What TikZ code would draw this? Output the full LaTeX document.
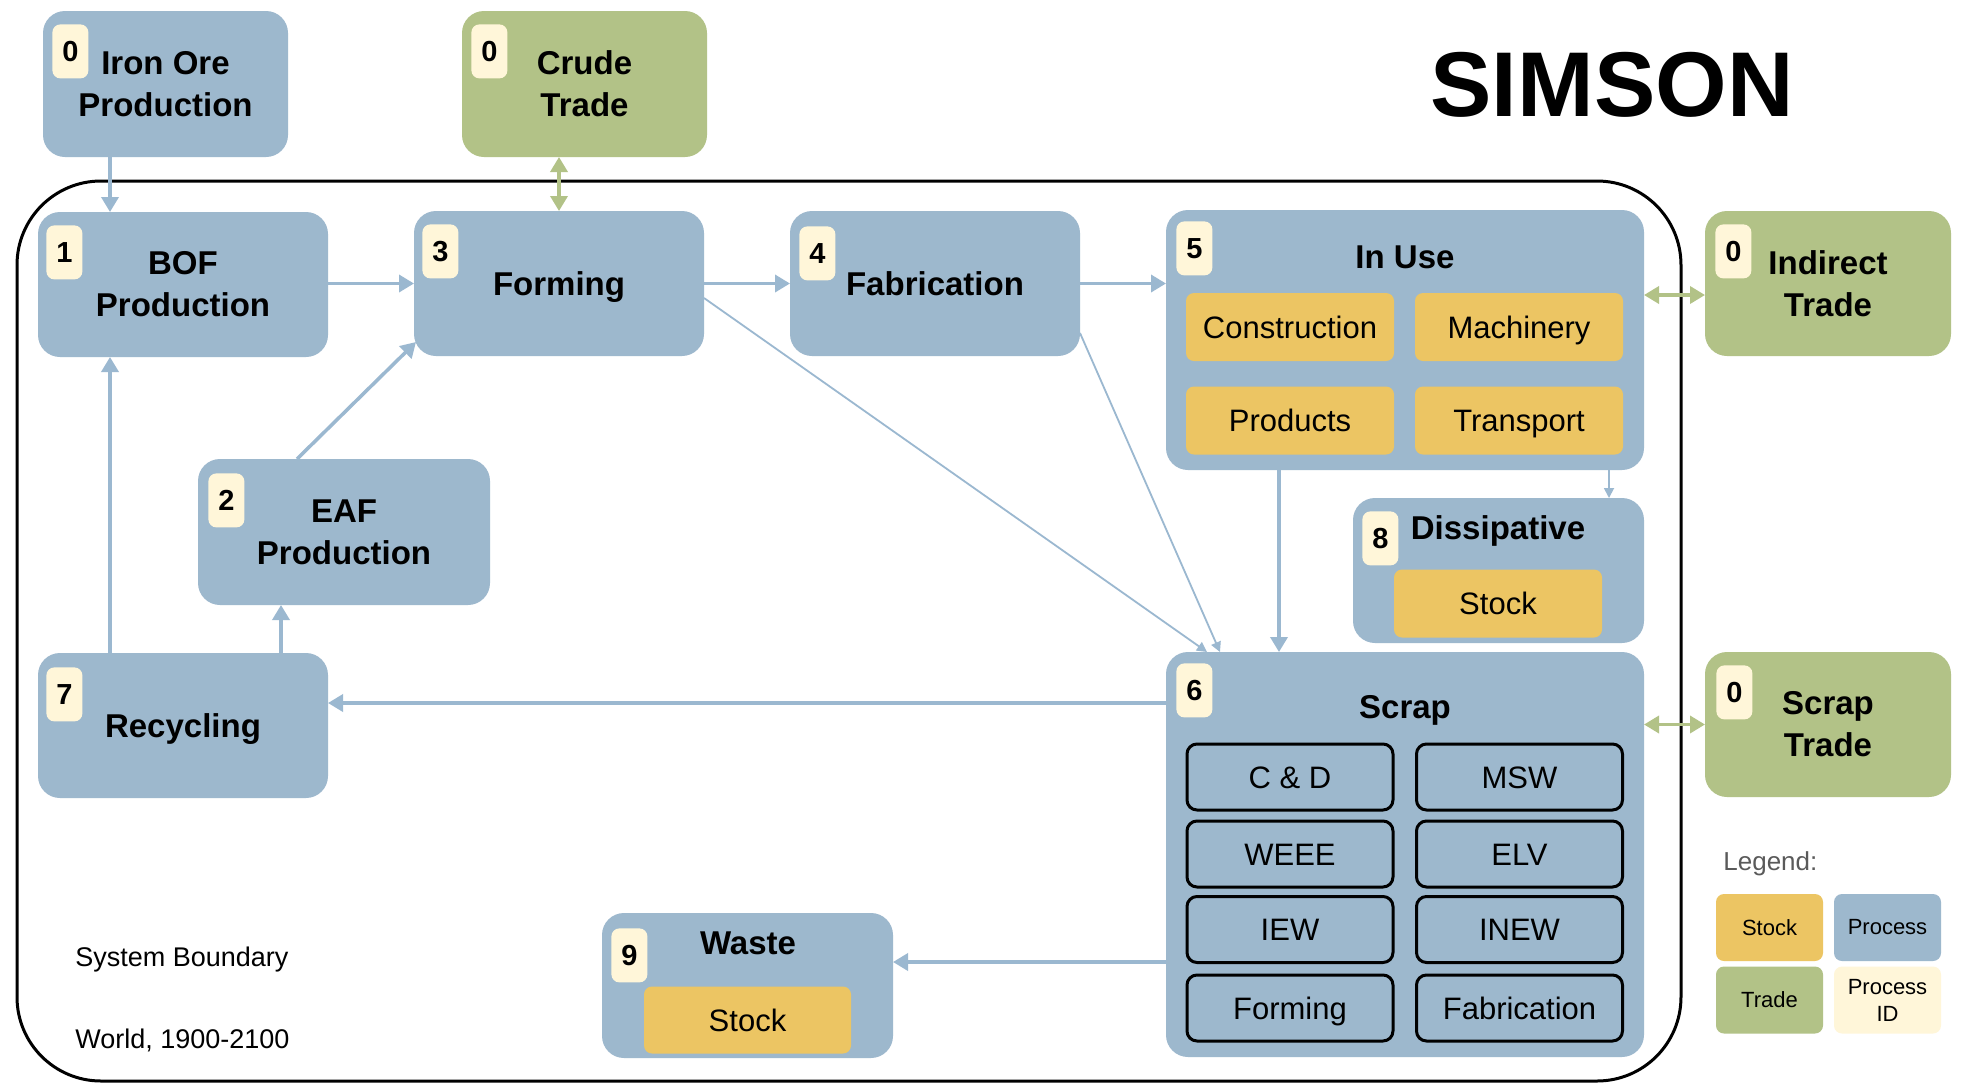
\documentclass[tikz,border=0pt]{standalone}
\usepackage{fontspec}
\setmainfont{Liberation Sans}
\usetikzlibrary{arrows.meta,calc}
\definecolor{procblue}{HTML}{9DB8CD}
\definecolor{tradegreen}{HTML}{B2C287}
\definecolor{stockyellow}{HTML}{ECC563}
\definecolor{idcream}{HTML}{FFF6D9}
\definecolor{arrowblue}{HTML}{9BB8D0}
\definecolor{legendgray}{HTML}{5A5A5A}
\newcommand\ttlfont{\fontsize{16.5}{21}\selectfont\bfseries}
\newcommand\sbfont{\fontsize{15.5}{19}\selectfont}
\newcommand\bdgfont{\fontsize{14.5}{16}\selectfont\bfseries}
\newcommand\lgfont{\fontsize{11}{13.5}\selectfont}
\begin{document}
\begin{tikzpicture}[x=0.5pt,y=-0.5pt,
  box/.style={rounded corners=11pt, inner sep=0pt, outer sep=0pt, align=center, font=\ttlfont},
  proc/.style={box, fill=procblue},
  trade/.style={box, fill=tradegreen},
  oneline/.style={text height=12pt, text depth=0pt},
  stocksub/.style={rounded corners=4pt, fill=stockyellow, inner sep=0pt, font=\sbfont, text height=11.2pt, text depth=0pt, minimum width=104pt, minimum height=34pt},
  scrapsub/.style={rounded corners=5pt, fill=procblue, draw=black, line width=1.5pt, inner sep=0pt, font=\sbfont, text height=11.2pt, text depth=0pt, minimum width=103pt, minimum height=33pt},
  badge/.style={fill=idcream, rounded corners=4pt, minimum width=18pt, minimum height=27pt, inner sep=0pt, font=\bdgfont, text height=10.4pt, text depth=0pt, anchor=north west},
  ttl/.style={font=\ttlfont, anchor=base, inner sep=0pt},
  lgbox/.style={rounded corners=4pt, inner sep=0pt, font=\lgfont, align=center, minimum width=53.5pt, minimum height=33.5pt},
  flow/.style={draw=arrowblue, line width=1.75pt, -{Triangle[width=8.5pt,length=7.5pt]}},
  thinflow/.style={draw=arrowblue, line width=0.9pt, -{Triangle[width=5pt,length=5pt]}},
  tradeflow/.style={draw=tradegreen, line width=1.75pt, {Triangle[width=8.5pt,length=7.5pt]}-{Triangle[width=8.5pt,length=7.5pt]}},
]
\useasboundingbox (0,0) rectangle (1972,1088);
\fill[white] (0,0) rectangle (1972,1088);

% system boundary
\node[draw=black, line width=1.5pt, rounded corners=42pt, minimum width=832pt, minimum height=450pt, inner sep=0pt] (boundary) at (849,631) {};

% title
\node[font=\fontsize{46}{50}\selectfont\bfseries, anchor=base, inner sep=0pt] (simson) at (1612,116) {SIMSON};

% main boxes
\node[proc, minimum width=122.5pt, minimum height=73pt] (iron) at (165.5,84) {Iron Ore\\Production};
\node[trade, minimum width=122.5pt, minimum height=73pt] (crude) at (584.5,84) {Crude\\Trade};
\node[proc, minimum width=145pt, minimum height=72.5pt] (bof) at (183,284.5) {BOF\\Production};
\node[proc, oneline, minimum width=145pt, minimum height=72.5pt] (forming) at (559,283.5) {Forming};
\node[proc, oneline, minimum width=145pt, minimum height=72.5pt] (fab) at (935,283.5) {Fabrication};
\node[proc, minimum width=239pt, minimum height=130pt] (inuse) at (1405,340) {};
\node[trade, minimum width=123pt, minimum height=72.5pt] (indirect) at (1828,283.5) {Indirect\\Trade};
\node[proc, minimum width=146pt, minimum height=73pt] (eaf) at (344,532) {EAF\\Production};
\node[proc, minimum width=145.5pt, minimum height=72.5pt] (diss) at (1498.5,570.5) {};
\node[proc, oneline, minimum width=145pt, minimum height=72.5pt] (recyc) at (183,725.5) {Recycling};
\node[proc, minimum width=239pt, minimum height=202.5pt] (scrap) at (1405,854.5) {};
\node[trade, minimum width=123pt, minimum height=72.5pt] (scraptrade) at (1828,724.5) {Scrap\\Trade};
\node[proc, minimum width=145.5pt, minimum height=72.5pt] (waste) at (747.5,985.5) {};

% titles of container boxes
\node[ttl] (inuset) at (1405,268) {In Use};
\node[ttl] (disst) at (1498,539) {Dissipative};
\node[ttl] (scrapt) at (1405,718) {Scrap};
\node[ttl] (wastet) at (748,954) {Waste};

% stock sub boxes
\node[stocksub] (cons) at (1290,327) {Construction};
\node[stocksub] (mach) at (1519,327) {Machinery};
\node[stocksub] (prod) at (1290,420.5) {Products};
\node[stocksub] (trans) at (1519,420.5) {Transport};
\node[stocksub] (dstock) at (1498,603.5) {Stock};
\node[stocksub, minimum width=103.5pt, minimum height=33.5pt] (wstock) at (747.5,1020) {Stock};

% scrap sub boxes
\node[scrapsub] (cd) at (1290,777) {C \& D};
\node[scrapsub] (msw) at (1519.5,777) {MSW};
\node[scrapsub] (weee) at (1290,854) {WEEE};
\node[scrapsub] (elv) at (1519.5,854) {ELV};
\node[scrapsub] (iew) at (1290,929.5) {IEW};
\node[scrapsub] (inew) at (1519.5,929.5) {INEW};
\node[scrapsub] (sform) at (1290,1008) {Forming};
\node[scrapsub] (sfab) at (1519.5,1008) {Fabrication};

% process id badges
\node[badge] (b-iron) at ($(iron.north west)+(9,13)$) {0};
\node[badge] (b-crude) at ($(crude.north west)+(9,13)$) {0};
\node[badge] (b-bof) at ($(bof.north west)+(8,13)$) {1};
\node[badge] (b-forming) at ($(forming.north west)+(8,13)$) {3};
\node[badge] (b-fab) at ($(fab.north west)+(9,15)$) {4};
\node[badge] (b-inuse) at ($(inuse.north west)+(10,11)$) {5};
\node[badge] (b-indirect) at ($(indirect.north west)+(10,13)$) {0};
\node[badge] (b-eaf) at ($(eaf.north west)+(10,14)$) {2};
\node[badge] (b-diss) at ($(diss.north west)+(9,13)$) {8};
\node[badge] (b-recyc) at ($(recyc.north west)+(8,14)$) {7};
\node[badge] (b-scrap) at ($(scrap.north west)+(10,11)$) {6};
\node[badge] (b-scraptrade) at ($(scraptrade.north west)+(11,13)$) {0};
\node[badge] (b-waste) at ($(waste.north west)+(9,15)$) {9};

% helper coordinates
\coordinate (c110) at (110,0);
\coordinate (c281) at (281,0);
\coordinate (c1279) at (1279,0);
\coordinate (c1609) at (1609,0);
\coordinate (y295) at (0,295);
\coordinate (y703) at (0,703);
\coordinate (y962) at (0,962);

% flows
\draw[flow] (iron.south -| c110) -- (bof.north -| c110);
\draw[tradeflow] (crude.south -| forming.north) -- (forming.north);
\draw[flow] (bof.east |- forming.east) -- (forming.west);
\draw[flow] (forming.east) -- (fab.west);
\draw[flow] (fab.east) -- (fab.east -| inuse.west);
\draw[tradeflow] (inuse.east |- y295) -- (indirect.west |- y295);
\draw[tradeflow] (scraptrade.west -| scrap.east) -- (scraptrade.west);
\draw[flow] ($(eaf.north west)+(99,0)$) -- ($(forming.south west)+(2,-14)$);
\draw[flow] (recyc.north -| c281) -- (eaf.south -| c281);
\draw[flow] (recyc.north -| c110) -- (bof.south -| c110);
\draw[flow] (scrap.west |- y703) -- (recyc.east |- y703);
\draw[flow] (scrap.west |- y962) -- (waste.east |- y962);
\draw[flow] (inuse.south -| c1279) -- (scrap.north -| c1279);
\draw[thinflow] (inuse.south -| c1609) -- (diss.north -| c1609);
\draw[thinflow] ($(forming.east)+(0,14.5)$) -- ($(scrap.north west)+(41,0)$);
\draw[thinflow] ($(fab.east)+(0,49.5)$) -- ($(scrap.north west)+(54,0)$);

% boundary labels
\node[font=\fontsize{13.5}{16}\selectfont, anchor=base west, inner sep=0pt] (sysb) at (75,966) {System Boundary};
\node[font=\fontsize{13.5}{16}\selectfont, anchor=base west, inner sep=0pt] (world) at (75,1048) {World, 1900-2100};

% legend
\node[font=\fontsize{13}{16}\selectfont, text=legendgray, anchor=base west, inner sep=0pt] (legendt) at (1723,870) {Legend:};
\node[lgbox, fill=stockyellow] (lstock) at (1769.5,927.5) {Stock};
\node[lgbox, fill=procblue] (lproc) at (1887.5,927.5) {Process};
\node[lgbox, fill=tradegreen] (ltrade) at (1769.5,1000) {Trade};
\node[lgbox, fill=idcream] (lid) at (1887.5,1000) {Process\\ID};
\end{tikzpicture}
\end{document}
